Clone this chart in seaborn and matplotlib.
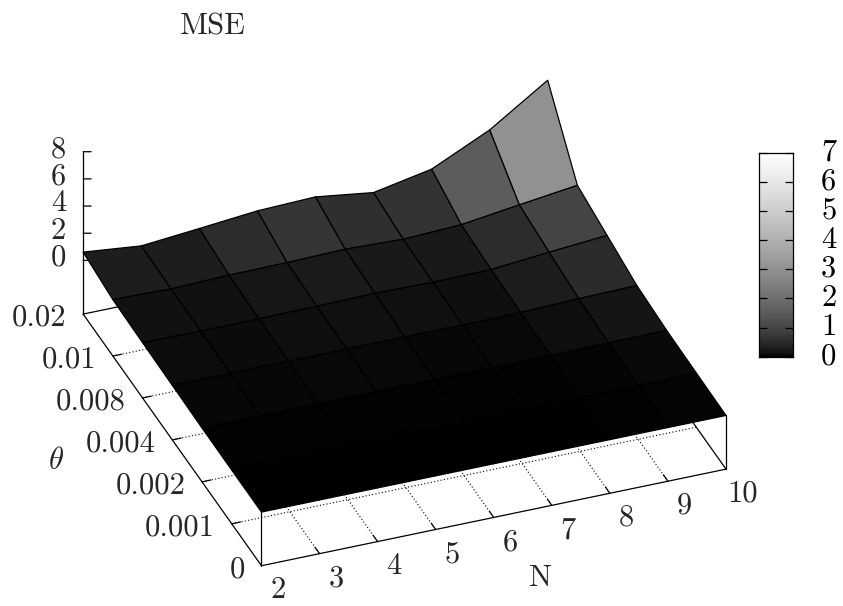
import numpy as np
import matplotlib
matplotlib.use("Agg")
import matplotlib.pyplot as plt
from matplotlib.colors import PowerNorm
from matplotlib.transforms import ScaledTranslation
from mpl_toolkits.mplot3d import proj3d
import seaborn as sns

n_labels = ["2", "3", "4", "5", "6", "7", "8", "9", "10"]
theta_labels = ["0", "0.001", "0.002", "0.004", "0.008", "0.01", "0.02"]
z_ticks = [0, 2, 4, 6, 8]
cb_ticks = [0, 1, 2, 3, 4, 5, 6, 7]

# MSE for each theta, one value per N
mse_theta_0 = [0.00, 0.00, 0.00, 0.00, 0.00, 0.00, 0.00, 0.00, 0.00]
mse_theta_0001 = [0.003, 0.002, 0.002, 0.003, 0.003, 0.002, 0.006, 0.02, 0.04]
mse_theta_0002 = [0.015, 0.01, 0.01, 0.015, 0.015, 0.01, 0.02, 0.05, 0.10]
mse_theta_0004 = [0.07, 0.05, 0.06, 0.07, 0.07, 0.05, 0.09, 0.22, 0.30]
mse_theta_0008 = [0.12, 0.07, 0.10, 0.13, 0.20, 0.12, 0.16, 0.55, 0.90]
mse_theta_001 = [0.20, 0.10, 0.22, 0.26, 0.35, 0.20, 0.38, 0.95, 1.50]
mse_theta_002 = [0.61, 0.18, 0.57, 0.98, 1.12, 0.55, 1.38, 3.38, 6.15]

sns.set_theme(style="white")
plt.rcParams["font.family"] = "cmr10"
plt.rcParams["mathtext.fontset"] = "cm"
plt.rcParams["axes.formatter.use_mathtext"] = True
FS = 22
LW = 0.9

mse = np.array([mse_theta_0, mse_theta_0001, mse_theta_0002, mse_theta_0004,
                mse_theta_0008, mse_theta_001, mse_theta_002])
nx = len(n_labels) - 1
ny = len(theta_labels) - 1
zbase = -3.95

cmap = sns.color_palette("gray", as_cmap=True)
norm = PowerNorm(gamma=1 / 1.5, vmin=0, vmax=7)

fig = plt.figure(figsize=(8.43, 6.06), dpi=100)
side = 708.4
cx, cy = 395.0, 320.0
ax = fig.add_axes([(cx - side / 2) / 843, (606 - cy - side / 2) / 606, side / 843, side / 606],
                  projection="3d")
ax.set_proj_type("ortho")
ax.view_init(elev=32.8, azim=249.0)
ax.set_box_aspect((498.5, 498.5, 193.5), zoom=1)
ax.set_xlim(0, nx, view_margin=0)
ax.set_ylim(0, ny, view_margin=0)
ax.set_zlim(zbase, 8, view_margin=0)
ax.set_axis_off()
ax.computed_zorder = False
ax.patch.set_alpha(0)

X, Y = np.meshgrid(np.arange(nx + 1), np.arange(ny + 1))
cells = (mse[:-1, :-1] + mse[1:, :-1] + mse[:-1, 1:] + mse[1:, 1:]) / 4
ax.plot_surface(X, Y, mse, rstride=1, cstride=1, facecolors=cmap(norm(cells)),
                shade=False, edgecolor="black", linewidth=LW, antialiased=True, zorder=3)


def line(xs, ys, zs, **kw):
    ax.plot(xs, ys, zs, color="black", lw=kw.pop("lw", LW), clip_on=False, **kw)


def label(x, y, z, s, ha="center"):
    # plain 2D text at the projected spot
    px, py, _ = proj3d.proj_transform(x, y, z, ax.get_proj())
    ax.text2D(px, py, s, transform=ax.transData, fontsize=FS, ha=ha, va="center", clip_on=False)


# box around the base
line([0, nx], [0, 0], [zbase, zbase], zorder=1)
line([0, 0], [0, ny], [zbase, zbase], zorder=1)
line([0, nx], [ny, ny], [zbase, zbase], zorder=1)
line([nx, nx], [0, ny], [zbase, zbase], zorder=1)
line([0, 0], [0, 0], [zbase, mse[0, 0]], zorder=4)
line([nx, nx], [0, 0], [zbase, mse[0, nx]], zorder=4)
line([0, 0], [ny, ny], [zbase, 8], zorder=1)

# dotted grid and short ticks on the floor
for i in range(nx + 1):
    if 0 < i < nx:
        line([i, i], [0, ny], [zbase, zbase], ls=(0, (1, 2)), lw=0.8, zorder=1)
        line([i, i], [0, 0.15], [zbase, zbase], zorder=1)
    label(i - 0.016, -0.59, zbase, n_labels[i])

for j in range(ny + 1):
    if 0 < j < ny:
        line([0, nx], [j, j], [zbase, zbase], ls=(0, (1, 2)), lw=0.8, zorder=1)
        line([0, 0.15], [j, j], [zbase, zbase], zorder=1)
    label(-0.29, j - 0.005, zbase, theta_labels[j], ha="right")

for z in z_ticks:
    line([0, 0.12], [ny, ny - 0.034], [z, z], zorder=1)
    label(-0.255, ny + 0.073, z + 0.17, str(z), ha="right")

label(4.05, -1.47, zbase, "N")
fig.text(56 / 843, 1 - 461.7 / 606, r"$\theta$", fontsize=FS, ha="center", va="center")
fig.text(213 / 843, 1 - 27 / 606, "MSE", fontsize=FS, ha="center", va="center")

# colour box
cax = fig.add_axes([759.3 / 843, 1 - 356.7 / 606, 34 / 843, 204 / 606])
ramp = np.linspace(7, 0, 256)[:, None]
sns.heatmap(ramp, ax=cax, cmap=cmap, norm=norm, cbar=False, xticklabels=False, yticklabels=False)
cax.set_yticks([(7 - v) / 7 * 256 for v in cb_ticks])
cax.set_yticklabels([str(v) for v in cb_ticks], rotation=0, fontsize=FS, color="black")
cax.tick_params(axis="y", direction="in", left=True, right=True, labelleft=False,
                labelright=True, length=5.8, width=LW, color="black", pad=20)
cax.set_axisbelow(False)
shift = ScaledTranslation(0, 3 / 100, fig.dpi_scale_trans)
for t in cax.get_yticklabels():
    t.set_transform(t.get_transform() + shift)
for spine in cax.spines.values():
    spine.set_visible(True)
    spine.set_color("black")
    spine.set_linewidth(LW)

fig.savefig("out.png", dpi=100)
